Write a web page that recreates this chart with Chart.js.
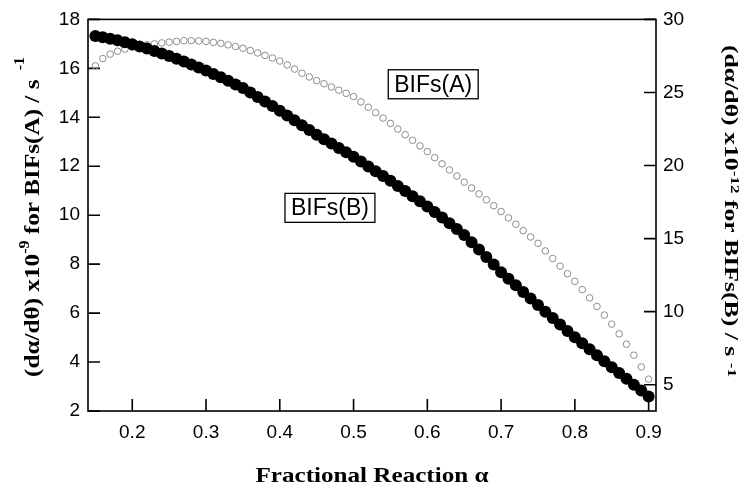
<!DOCTYPE html>
<html>
<head>
<meta charset="utf-8">
<script src="https://cdn.jsdelivr.net/npm/chart.js@4"></script>
<style>
  body { margin: 0; background: #fff; }
  #wrap { width: 740px; height: 490px; }
</style>
</head>
<body>
<div id="wrap"><canvas id="chart" width="740" height="490"></canvas></div>
<script>
// Fractional reaction (x) shared by both series
const alpha = [0.15, 0.16, 0.17, 0.18, 0.19, 0.20, 0.21, 0.22, 0.23, 0.24,
    0.25, 0.26, 0.27, 0.28, 0.29, 0.30, 0.31, 0.32, 0.33, 0.34,
    0.35, 0.36, 0.37, 0.38, 0.39, 0.40, 0.41, 0.42, 0.43, 0.44,
    0.45, 0.46, 0.47, 0.48, 0.49, 0.50, 0.51, 0.52, 0.53, 0.54,
    0.55, 0.56, 0.57, 0.58, 0.59, 0.60, 0.61, 0.62, 0.63, 0.64,
    0.65, 0.66, 0.67, 0.68, 0.69, 0.70, 0.71, 0.72, 0.73, 0.74,
    0.75, 0.76, 0.77, 0.78, 0.79, 0.80, 0.81, 0.82, 0.83, 0.84,
    0.85, 0.86, 0.87, 0.88, 0.89, 0.90];

// BIFs(A): dα/dθ x10^-9 (left axis)
const bifsA = [16.10, 16.40, 16.58, 16.70, 16.79, 16.86, 16.91, 16.96, 17.00, 17.04,
    17.07, 17.10, 17.13, 17.13, 17.12, 17.10, 17.06, 17.02, 16.96, 16.89,
    16.82, 16.73, 16.63, 16.53, 16.42, 16.30, 16.14, 15.97, 15.80, 15.65,
    15.50, 15.37, 15.24, 15.11, 14.98, 14.85, 14.63, 14.41, 14.19, 13.97,
    13.75, 13.52, 13.29, 13.06, 12.83, 12.60, 12.35, 12.10, 11.85, 11.60,
    11.35, 11.11, 10.87, 10.63, 10.39, 10.15, 9.89, 9.63, 9.37, 9.11,
    8.85, 8.54, 8.23, 7.92, 7.61, 7.30, 6.96, 6.62, 6.27, 5.92,
    5.55, 5.15, 4.73, 4.28, 3.80, 3.30];

// BIFs(B): dα/dθ x10^-12 (right axis)
const bifsB = [28.87, 28.78, 28.68, 28.57, 28.44, 28.30, 28.15, 28.00, 27.84, 27.67,
    27.50, 27.31, 27.12, 26.92, 26.71, 26.50, 26.27, 26.04, 25.80, 25.55,
    25.30, 25.00, 24.69, 24.38, 24.07, 23.75, 23.42, 23.09, 22.76, 22.43,
    22.10, 21.80, 21.50, 21.20, 20.90, 20.60, 20.27, 19.94, 19.61, 19.28,
    18.95, 18.60, 18.25, 17.90, 17.55, 17.20, 16.82, 16.44, 16.05, 15.65,
    15.25, 14.75, 14.25, 13.74, 13.22, 12.70, 12.25, 11.80, 11.35, 10.90,
    10.45, 10.00, 9.56, 9.12, 8.68, 8.25, 7.84, 7.43, 7.02, 6.61,
    6.20, 5.80, 5.40, 5.00, 4.60, 4.20];

const xTicks = [0.2, 0.3, 0.4, 0.5, 0.6, 0.7, 0.8, 0.9];
const leftTicks = [2, 4, 6, 8, 10, 12, 14, 16, 18];
const rightTicks = [5, 10, 15, 20, 25, 30];

const SANS = '"Liberation Sans", Arial, sans-serif';
const SERIF = '"Liberation Serif", "Times New Roman", serif';
const TICK_LEN = 12;

// text boxes placed in data units (left axis)
const boxA = { text: 'BIFs(A)', x: 0.608, y: 15.35 };
const boxB = { text: 'BIFs(B)', x: 0.468, y: 10.3 };

function toPoints(xs, ys) {
    return xs.map((x, i) => ({ x: x, y: ys[i] }));
}

// draw a line of text made of parts (normal + superscripts), centered,
// rotated, and stretched to a given length
function drawRich(ctx, parts, cx, cy, angle, length) {
    ctx.save();
    let total = 0;
    parts.forEach(p => {
        ctx.font = p.font;
        p.w = ctx.measureText(p.text).width;
        total += p.w + (p.gap || 0);
    });
    const k = length ? length / total : 1;
    ctx.translate(cx, cy);
    ctx.rotate(angle);
    ctx.scale(k, 1);
    ctx.textAlign = 'left';
    ctx.textBaseline = 'alphabetic';
    ctx.fillStyle = '#000';
    let x = -total / 2;
    parts.forEach(p => {
        x += p.gap || 0;
        ctx.font = p.font;
        ctx.fillText(p.text, x, p.dy || 0);
        x += p.w;
    });
    ctx.restore();
}

function drawBox(ctx, chart, box) {
    const px = chart.scales.x.getPixelForValue(box.x);
    const py = chart.scales.yA.getPixelForValue(box.y);
    ctx.save();
    ctx.font = '23px ' + SANS;
    const w = ctx.measureText(box.text).width + 12;
    const h = 29;
    ctx.fillStyle = '#fff';
    ctx.fillRect(px - w / 2, py - h / 2, w, h);
    ctx.strokeStyle = '#000';
    ctx.lineWidth = 1.3;
    ctx.strokeRect(px - w / 2, py - h / 2, w, h);
    ctx.fillStyle = '#000';
    ctx.textAlign = 'center';
    ctx.textBaseline = 'middle';
    ctx.fillText(box.text, px, py + 1);
    ctx.restore();
}

const framePlugin = {
    id: 'frame',
    beforeDatasetsDraw(chart) {
        const { ctx, chartArea: a, scales } = chart;
        ctx.save();
        ctx.strokeStyle = '#000';
        ctx.lineWidth = 1.6;
        ctx.strokeRect(a.left, a.top, a.right - a.left, a.bottom - a.top);
        ctx.beginPath();
        scales.x.ticks.forEach(t => {
            const px = scales.x.getPixelForValue(t.value);
            ctx.moveTo(px, a.bottom);
            ctx.lineTo(px, a.bottom - TICK_LEN);
        });
        scales.yA.ticks.forEach(t => {
            const py = scales.yA.getPixelForValue(t.value);
            ctx.moveTo(a.left, py);
            ctx.lineTo(a.left + TICK_LEN, py);
        });
        scales.yB.ticks.forEach(t => {
            const py = scales.yB.getPixelForValue(t.value);
            ctx.moveTo(a.right, py);
            ctx.lineTo(a.right - TICK_LEN, py);
        });
        ctx.stroke();
        ctx.restore();
    },
    afterDraw(chart) {
        const { ctx, chartArea: a } = chart;
        drawBox(ctx, chart, boxA);
        drawBox(ctx, chart, boxB);

        const big = 'bold 22px ' + SERIF;
        const sup = 'bold 14px ' + SERIF;
        // left title, reads bottom to top
        drawRich(ctx, [
            { text: '(dα/dθ) x10', font: big },
            { text: '-9', font: sup, dy: -10 },
            { text: ' for BIFs(A) / s', font: big },
            { text: '-1', font: sup, dy: -15, gap: 8 }
        ], 39, 217, -Math.PI / 2, 320);

        const mid = 'bold 18px ' + SERIF;
        const sup2 = 'bold 12px ' + SERIF;
        // right title, reads top to bottom
        drawRich(ctx, [
            { text: '(dα/dθ) x10', font: mid },
            { text: '-12', font: sup2, dy: -6 },
            { text: ' for BIFs(B) / s ', font: mid },
            { text: '-1', font: sup2, dy: -3 }
        ], 725, 211, Math.PI / 2, 332);

        // x title
        drawRich(ctx, [
            { text: 'Fractional Reaction α', font: 'bold 21px ' + SERIF }
        ], (a.left + a.right) / 2, 482, 0, 233);
    }
};

new Chart(document.getElementById('chart'), {
    type: 'scatter',
    data: {
        datasets: [{
            label: 'BIFs(B)',
            data: toPoints(alpha, bifsB),
            yAxisID: 'yB',
            pointRadius: 6,
            pointBackgroundColor: '#000',
            pointBorderColor: '#000',
            pointBorderWidth: 0,
            showLine: false
        }, {
            label: 'BIFs(A)',
            data: toPoints(alpha, bifsA),
            yAxisID: 'yA',
            pointRadius: 3.3,
            pointBackgroundColor: 'rgba(0,0,0,0)',
            pointBorderColor: '#8c8c8c',
            pointBorderWidth: 1,
            showLine: false
        }]
    },
    options: {
        responsive: false,
        devicePixelRatio: 1,
        animation: false,
        layout: { padding: { top: 14, left: 0, right: 0, bottom: 0 } },
        plugins: {
            legend: { display: false },
            tooltip: { enabled: false }
        },
        scales: {
            x: {
                type: 'linear',
                min: 0.14,
                max: 0.91,
                afterBuildTicks: s => { s.ticks = xTicks.map(v => ({ value: v })); },
                afterFit: s => { s.height = 79; },
                grid: { display: false, drawTicks: false },
                border: { display: false },
                ticks: {
                    padding: 10,
                    color: '#000',
                    font: { family: SANS, size: 19 },
                    callback: v => v.toFixed(1)
                }
            },
            yA: {
                type: 'linear',
                position: 'left',
                min: 2,
                max: 18,
                afterBuildTicks: s => { s.ticks = leftTicks.map(v => ({ value: v })); },
                afterFit: s => { s.width = 88; },
                grid: { display: false, drawTicks: false },
                border: { display: false },
                ticks: {
                    padding: 8,
                    color: '#000',
                    font: { family: SANS, size: 19 }
                }
            },
            yB: {
                type: 'linear',
                position: 'right',
                min: 3.2,
                max: 30,
                afterBuildTicks: s => { s.ticks = rightTicks.map(v => ({ value: v })); },
                afterFit: s => { s.width = 84; },
                grid: { display: false, drawTicks: false },
                border: { display: false },
                ticks: {
                    padding: 7,
                    color: '#000',
                    font: { family: SANS, size: 19 }
                }
            }
        }
    },
    plugins: [framePlugin]
});
</script>
</body>
</html>
